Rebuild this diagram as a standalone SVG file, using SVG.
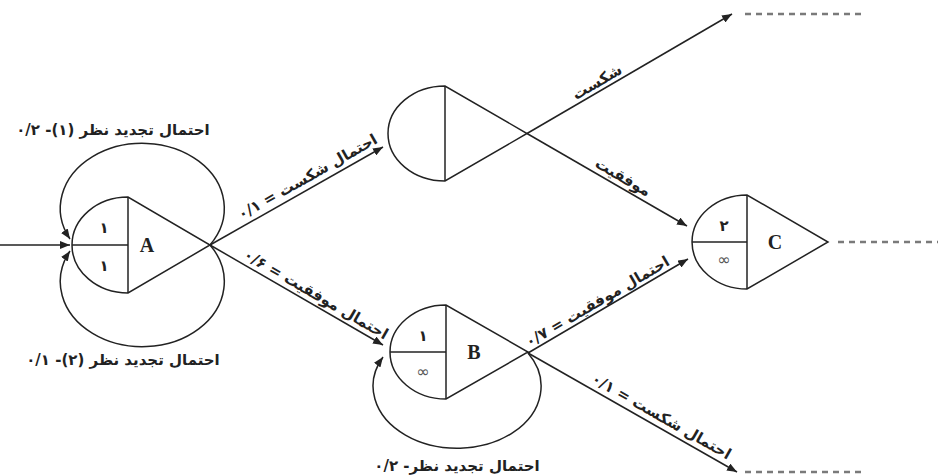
<svg xmlns="http://www.w3.org/2000/svg" width="938" height="475" viewBox="0 0 938 475">
<defs>
<marker id="arr" markerUnits="userSpaceOnUse" markerWidth="10" markerHeight="8" refX="10" refY="4" orient="auto">
<path d="M0,0 L10,4 L0,8 z" fill="#222"/>
</marker>
<style>
.ln{fill:none;stroke:#222;stroke-width:1.5}
.shape{fill:#fff;stroke:#222;stroke-width:1.5}
.dash{fill:none;stroke:#7a7a7a;stroke-width:2.5;stroke-dasharray:6 5}
.fa{font-family:"DejaVu Sans",sans-serif;font-weight:bold;font-size:15px;fill:#222}
.lbl{font-family:"Liberation Serif",serif;font-weight:bold;font-size:20px;fill:#222}
.num{font-family:"DejaVu Sans",sans-serif;font-weight:bold;font-size:15px;fill:#222}
.inf{font-family:"DejaVu Sans",sans-serif;font-size:16px;fill:#555}
</style>
</defs>
<rect width="938" height="475" fill="#fff"/>

<g id="connectors">
<line class="ln" x1="0" y1="245" x2="70" y2="245" marker-end="url(#arr)"/>
<path class="ln" d="M210,245 A82,65 0 1,0 70,239" marker-end="url(#arr)"/>
<path class="ln" d="M210,245 A82,65 0 1,1 70,251" marker-end="url(#arr)"/>
<line class="ln" x1="210" y1="245" x2="383" y2="147" marker-end="url(#arr)"/>
<line class="ln" x1="210" y1="245" x2="383" y2="345" marker-end="url(#arr)"/>
<line class="ln" x1="527" y1="133.5" x2="732" y2="14" marker-end="url(#arr)"/>
<line class="ln" x1="527" y1="133.5" x2="687" y2="226" marker-end="url(#arr)"/>
<line class="ln" x1="528" y1="353" x2="688" y2="259" marker-end="url(#arr)"/>
<line class="ln" x1="528" y1="353" x2="737" y2="472" marker-end="url(#arr)"/>
<path class="ln" d="M528,353 A84,62 0 1,1 383,357" marker-end="url(#arr)"/>
<line class="dash" x1="745" y1="14" x2="862" y2="14"/>
<line class="dash" x1="838" y1="242" x2="938" y2="242"/>
<line class="dash" x1="745" y1="472" x2="862" y2="472"/>

<text class="fa" x="113" y="135" text-anchor="middle" direction="rtl">احتمال تجدید نظر (۱)- ۰/۲</text>
<text class="fa" x="123" y="365" text-anchor="middle" direction="rtl">احتمال تجدید نظر (۲)- ۰/۱</text>
<text class="fa" x="457" y="471" text-anchor="middle" direction="rtl">احتمال تجدید نظر- ۰/۲</text>
<text class="fa" transform="translate(313,186.5) rotate(-29.53)" x="0" y="-6" text-anchor="middle" direction="rtl">احتمال شکست = ۰/۱</text>
<text class="fa" transform="translate(311,303) rotate(30.03)" x="0" y="-5" text-anchor="middle" direction="rtl">احتمال موفقیت = ۰/۶</text>
<text class="fa" transform="translate(601.7,89.9) rotate(-30.24)" x="0" y="-4" text-anchor="middle" direction="rtl">شکست</text>
<text class="fa" transform="translate(618,186) rotate(30.03)" x="0" y="-5" text-anchor="middle" direction="rtl">موفقیت</text>
<text class="fa" transform="translate(602,309.5) rotate(-30.43)" x="0" y="-4" text-anchor="middle" direction="rtl">احتمال موفقیت = ۰/۷</text>
<text class="fa" transform="translate(656,426) rotate(29.66)" x="0" y="-6" text-anchor="middle" direction="rtl">احتمال شکست = ۰/۱</text>
</g>

<g id="nodeA">
<path class="shape" d="M128,197 A56,48 0 0,0 128,293 L210,245 Z"/>
<line class="ln" x1="128" y1="197" x2="128" y2="293"/>
<line class="ln" x1="72" y1="245" x2="128" y2="245"/>
<text class="num" x="104" y="233" text-anchor="middle">۱</text>
<text class="num" x="104" y="271" text-anchor="middle">۱</text>
<text class="lbl" x="147" y="252" text-anchor="middle">A</text>
</g>

<g id="nodeD">
<path class="shape" d="M445,86 A57,47.5 0 0,0 445,181 L527,133.5 Z"/>
<line class="ln" x1="445" y1="86" x2="445" y2="181"/>
</g>

<g id="nodeB">
<path class="shape" d="M446,305 A56,47 0 0,0 446,399 L528,352 Z"/>
<line class="ln" x1="446" y1="305" x2="446" y2="399"/>
<line class="ln" x1="390" y1="352" x2="446" y2="352"/>
<text class="num" x="423" y="341" text-anchor="middle">۱</text>
<text class="inf" x="423" y="377" text-anchor="middle">∞</text>
<text class="lbl" x="474" y="359" text-anchor="middle">B</text>
</g>

<g id="nodeC">
<path class="shape" d="M747,195 A55,47 0 0,0 747,289 L828,242 Z"/>
<line class="ln" x1="747" y1="195" x2="747" y2="289"/>
<line class="ln" x1="692" y1="242" x2="747" y2="242"/>
<text class="num" x="724" y="231" text-anchor="middle">۲</text>
<text class="inf" x="724" y="265" text-anchor="middle">∞</text>
<text class="lbl" x="775" y="249" text-anchor="middle">C</text>
</g>
</svg>
